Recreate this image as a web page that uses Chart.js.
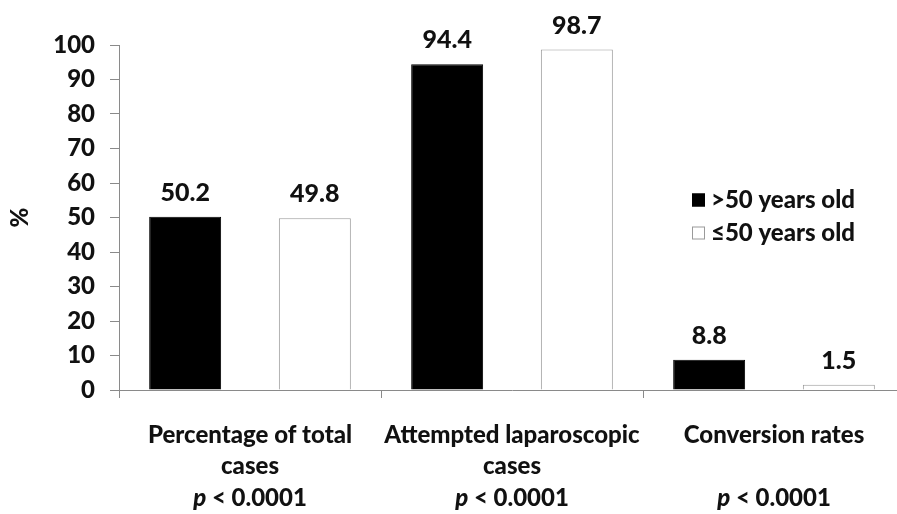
<!DOCTYPE html>
<html>
<head>
<meta charset="utf-8">
<script src="https://cdn.jsdelivr.net/npm/chart.js@4"></script>
<style>
  html, body { margin: 0; padding: 0; background: #fff; overflow: hidden; }
  canvas { display: block; }
</style>
</head>
<body>
<canvas id="chart" width="905" height="514"></canvas>
<script>
// categories (first two lines go in the axis labels, p values drawn below)
const categories = [
  ['Percentage of total', 'cases'],
  ['Attempted laparoscopic', 'cases'],
  ['Conversion rates']
]
const pValues = ['< 0.0001', '< 0.0001', '< 0.0001']
const seriesNames = ['>50 years old', '\u226450 years old']
const olderValues = [50.2, 94.4, 8.8]
const youngerValues = [49.8, 98.7, 1.5]
const yTicks = [0, 10, 20, 30, 40, 50, 60, 70, 80, 90, 100]

const FONT = 'Lato, "Open Sans", sans-serif'
const WEIGHT = 900
const AXIS_GREY = '#8a8a8a'

// value labels above each bar
const barLabels = {
  id: 'barLabels',
  afterDatasetsDraw(chart) {
    const ctx = chart.ctx
    ctx.save()
    ctx.font = WEIGHT + ' 25px ' + FONT
    ctx.fillStyle = '#111'
    ctx.textAlign = 'center'
    ctx.textBaseline = 'middle'
    chart.data.datasets.forEach((ds, i) => {
      chart.getDatasetMeta(i).data.forEach((bar, j) => {
        ctx.fillText(ds.data[j].toFixed(1), bar.x, bar.y - 24)
      })
    })
    ctx.restore()
  }
}

// "p < 0.0001" row under the category labels, with italic p
const pRow = {
  id: 'pRow',
  afterDraw(chart) {
    const ctx = chart.ctx
    const x = chart.scales.x
    ctx.save()
    ctx.fillStyle = '#111'
    ctx.textBaseline = 'middle'
    ctx.textAlign = 'left'
    pValues.forEach((p, i) => {
      const cx = x.getPixelForValue(i)
      ctx.font = 'italic ' + WEIGHT + ' 24px ' + FONT
      const wp = ctx.measureText('p').width
      ctx.font = WEIGHT + ' 24px ' + FONT
      const wr = ctx.measureText(' ' + p).width
      const start = cx - (wp + wr) / 2
      ctx.font = 'italic ' + WEIGHT + ' 24px ' + FONT
      ctx.fillText('p', start, 498)
      ctx.font = WEIGHT + ' 24px ' + FONT
      ctx.fillText(' ' + p, start + wp, 498)
    })
    ctx.restore()
  }
}

// legend sitting inside the plot, to the right
const sideLegend = {
  id: 'sideLegend',
  afterDraw(chart) {
    const ctx = chart.ctx
    ctx.save()
    ctx.font = WEIGHT + ' 24px ' + FONT
    ctx.textBaseline = 'middle'
    ctx.textAlign = 'left'
    chart.data.datasets.forEach((ds, i) => {
      const cy = 200 + i * 33
      ctx.fillStyle = ds.backgroundColor
      ctx.fillRect(692, cy - 6.5, 13, 13)
      ctx.strokeStyle = ds.borderColor
      ctx.lineWidth = 1
      ctx.strokeRect(692.5, cy - 6, 12, 12)
      ctx.fillStyle = '#111'
      ctx.fillText(ds.label, 711, cy)
    })
    ctx.restore()
  }
}

new Chart(document.getElementById('chart'), {
  type: 'bar',
  data: {
    labels: categories,
    datasets: [
      {
        label: seriesNames[0],
        data: olderValues,
        backgroundColor: '#000',
        borderColor: '#000',
        borderWidth: 1
      },
      {
        label: seriesNames[1],
        data: youngerValues,
        backgroundColor: '#fff',
        borderColor: '#9a9a9a',
        borderWidth: 1
      }
    ]
  },
  options: {
    responsive: false,
    animation: false,
    devicePixelRatio: 1,
    layout: { padding: { top: 45, left: 0, right: 0, bottom: 0 } },
    datasets: {
      bar: { categoryPercentage: 0.99, barPercentage: 0.555 }
    },
    plugins: {
      legend: { display: false },
      tooltip: { enabled: false }
    },
    scales: {
      x: {
        grid: {
          offset: true,
          drawOnChartArea: false,
          drawTicks: true,
          tickLength: 8,
          color: AXIS_GREY
        },
        border: { color: AXIS_GREY },
        ticks: {
          color: '#111',
          padding: 22,
          maxRotation: 0,
          autoSkip: false,
          font: { family: FONT, size: 24, weight: WEIGHT, lineHeight: '31px' }
        },
        afterFit(scale) { scale.height = 124 }
      },
      y: {
        min: 0,
        max: 100,
        afterBuildTicks(scale) { scale.ticks = yTicks.map(v => ({ value: v })) },
        grid: {
          drawOnChartArea: false,
          drawTicks: true,
          tickLength: 9,
          color: AXIS_GREY
        },
        border: { color: AXIS_GREY },
        ticks: {
          color: '#111',
          padding: 15,
          font: { family: FONT, size: 24, weight: WEIGHT }
        },
        title: {
          display: true,
          text: '%',
          color: '#111',
          padding: { top: 6, bottom: 0 },
          font: { family: FONT, size: 24, weight: WEIGHT }
        },
        afterFit(scale) { scale.width = 119 }
      }
    }
  },
  plugins: [barLabels, pRow, sideLegend]
})
</script>
</body>
</html>
